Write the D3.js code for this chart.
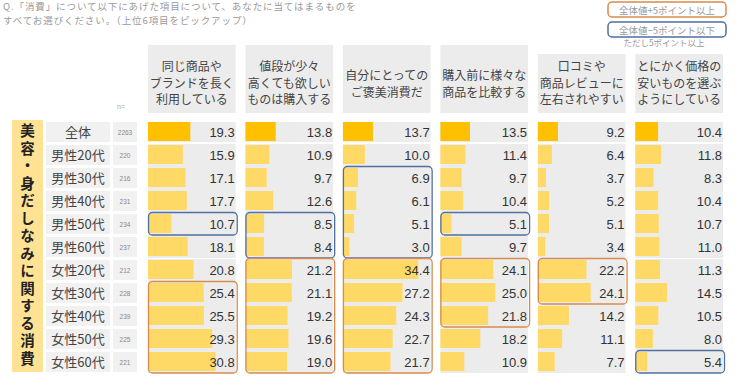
<!DOCTYPE html>
<html><head><meta charset="utf-8">
<script src="https://cdn.jsdelivr.net/npm/d3@7"></script>
<style>
body{margin:0;background:#fff;}
svg{display:block;}
</style></head>
<body>
<svg id="c" width="748" height="381"></svg>
<script>
const questionLines = ["Q.「消費」について以下にあげた項目について、あなたに当てはまるものを", "すべてお選びください。（上位6項目をピックアップ）"];
const legendLabels = ["全体値+5ポイント以上", "全体値−5ポイント以下", "ただし5ポイント以上"];
const sectionLabel = "美容・身だしなみに関する消費";
const categories = [
  ["同じ商品や","ブランドを長く","利用している"],
  ["値段が少々","高くても欲しい","ものは購入する"],
  ["自分にとっての","ご褒美消費だ"],
  ["購入前に様々な","商品を比較する"],
  ["口コミや","商品レビューに","左右されやすい"],
  ["とにかく価格の","安いものを選ぶ","ようにしている"]
];
const groups = ["全体","男性20代","男性30代","男性40代","男性50代","男性60代","女性20代","女性30代","女性40代","女性50代","女性60代"];
const nValues = [2263,220,216,231,234,237,212,228,239,225,221];
const col1 = [19.3,15.9,17.1,17.7,10.7,18.1,20.8,25.4,25.5,29.3,30.8];
const col2 = [13.8,10.9,9.7,12.6,8.5,8.4,21.2,21.1,19.2,19.6,19.0];
const col3 = [13.7,10.0,6.9,6.1,5.1,3.0,34.4,27.2,24.3,22.7,21.7];
const col4 = [13.5,11.4,9.7,10.4,5.1,9.7,24.1,25.0,21.8,18.2,10.9];
const col5 = [9.2,6.4,3.7,5.2,5.1,3.4,22.2,24.1,14.2,11.1,7.7];
const col6 = [10.4,11.8,8.3,10.4,10.7,11.0,11.3,14.5,10.5,8.0,5.4];
const series = [col1,col2,col3,col4,col5,col6];
// highlight groups: [column index, first row, last row, type]
const highlights = [
  [0,4,4,"low"],[0,7,10,"high"],
  [1,4,5,"low"],[1,6,10,"high"],
  [2,2,5,"low"],[2,6,10,"high"],
  [3,4,4,"low"],[3,6,8,"high"],
  [4,6,7,"high"],
  [5,10,10,"low"]
];

const svg = d3.select("#c");
const JP = "'Noto Sans CJK JP','Noto Sans',sans-serif";
const NUM = "'Liberation Sans',Arial,sans-serif";
const greyText = "#9a9a9a";
const cellBg = "#ececec";

// Question (one text, two lines)
const q = svg.append("text").attr("font-family",JP).attr("font-size",9.5).attr("letter-spacing",0.9).attr("fill",greyText);
q.selectAll("tspan").data(questionLines).join("tspan")
  .attr("x",3).attr("y",(d,i)=>10+i*14).text(d=>d);

// Legend
const legColors = {high:"#d98a4e", low:"#4f6fa0"};
[["high",0],["low",1]].forEach(([k,i])=>{
  svg.append("rect").attr("x",608).attr("y",2+i*20).attr("width",118).attr("height",15)
    .attr("rx",4).attr("fill","#fff").attr("stroke",legColors[k]).attr("stroke-width",1.5);
  svg.append("text").attr("x",667).attr("y",13.5+i*20).attr("text-anchor","middle")
    .attr("font-family",JP).attr("font-size",9.5).attr("fill",greyText).text(legendLabels[i]);
});
svg.append("text").attr("x",664).attr("y",46).attr("text-anchor","middle")
  .attr("font-family",JP).attr("font-size",8.5).attr("fill",greyText).text(legendLabels[2]);

// Scales
const colX = d3.scaleBand().domain(d3.range(categories.length)).range([148,723]).paddingInner(0.1).paddingOuter(0);
const cellW = colX.bandwidth();
const xVal = d3.scaleLinear().domain([0,40]).range([0,cellW]);
const rowY = d3.scalePoint().domain(d3.range(groups.length)).range([122,352]);
const rowH = 20;

// Headers
categories.forEach((lines,c)=>{
  const x0 = colX(c);
  const top = c>=4 ? 54 : 45;
  svg.append("rect").attr("x",x0).attr("y",top).attr("width",cellW).attr("height",113-top).attr("fill",cellBg);
  const n = lines.length;
  const startY = n===3 ? 71 : 80;
  const t = svg.append("text").attr("text-anchor","middle")
    .attr("font-family",JP).attr("font-size",12).attr("fill","#444");
  t.selectAll("tspan").data(lines).join("tspan")
    .attr("x",x0+cellW/2).attr("y",(d,j)=>startY+j*16.5).text(d=>d);
});

// n=
svg.append("text").attr("x",117).attr("y",109).attr("font-family",NUM).attr("font-size",7).attr("fill","#aaa").text("n=");

// Section label box (vertical text)
svg.append("rect").attr("x",12).attr("y",120).attr("width",31).attr("height",252).attr("fill","#ffe294");
svg.append("text").attr("x",27.5).attr("y",246).attr("text-anchor","middle")
  .attr("writing-mode","vertical-rl").attr("letter-spacing",3)
  .attr("font-family",JP).attr("font-weight","bold").attr("font-size",14.5).attr("fill","#222")
  .text(sectionLabel);

// Row labels and n
groups.forEach((g,i)=>{
  const y = rowY(i);
  svg.append("rect").attr("x",46).attr("y",y).attr("width",64).attr("height",rowH).attr("fill","#f1f1f1");
  svg.append("text").attr("x",78).attr("y",y+15).attr("text-anchor","middle")
    .attr("font-family",JP).attr("font-size",13).attr("fill","#444").text(g);
  svg.append("rect").attr("x",113).attr("y",y).attr("width",24).attr("height",rowH).attr("fill","#f1f1f1");
  svg.append("text").attr("x",125).attr("y",y+13).attr("text-anchor","middle")
    .attr("font-family",NUM).attr("font-size",6.5).attr("fill","#888").text(nValues[i]);
});

// Cell backgrounds (continuous per block)
const blocks = [[0,0],[1,5],[6,10]];
series.forEach((vals,c)=>{
  const x0 = colX(c);
  blocks.forEach(([a,b])=>{
    svg.append("rect").attr("x",x0).attr("y",rowY(a)-(a===0?0:1)).attr("width",cellW)
      .attr("height",rowY(b)+rowH-rowY(a)+(a===0?0:2)).attr("fill",cellBg);
  });
  svg.selectAll(null).data(vals).join("rect")
    .attr("x",x0).attr("y",(d,i)=>rowY(i)).attr("width",d=>xVal(d)).attr("height",19)
    .attr("fill",(d,i)=>i===0?"#ffc000":"#ffd966");
  svg.selectAll(null).data(vals).join("text")
    .attr("x",x0+cellW-1).attr("y",(d,i)=>rowY(i)+15).attr("text-anchor","end")
    .attr("font-family",NUM).attr("font-size",13).attr("fill","#333")
    .text(d=>d.toFixed(1));
});

// Highlight boxes
highlights.forEach(([c,a,b,t])=>{
  svg.append("rect").attr("x",colX(c)+0.5).attr("y",rowY(a)-1.5)
    .attr("width",cellW+1).attr("height",rowY(b)+rowH-rowY(a)+2.5)
    .attr("rx",4).attr("fill","none").attr("stroke",legColors[t]).attr("stroke-width",1.3);
});
</script>
</body></html>
